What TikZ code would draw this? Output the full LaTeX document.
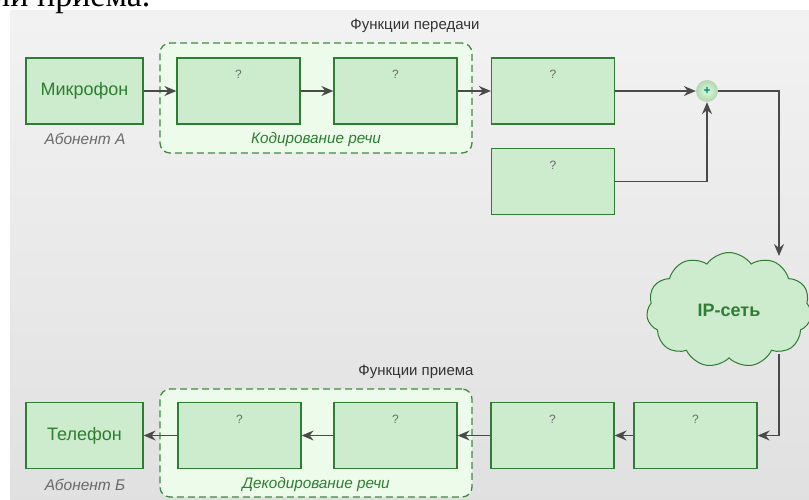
\documentclass[tikz,border=0pt]{standalone}
\usepackage{fontspec}
\setmainfont{Liberation Sans}
\newfontfamily\pagefont{Liberation Serif}
\usetikzlibrary{arrows.meta,shapes.symbols,positioning}

\definecolor{boxfill}{HTML}{CDEBCD}
\definecolor{boxline}{HTML}{2E7D32}
\definecolor{grpfill}{HTML}{EDFCEA}
\definecolor{grpline}{HTML}{3D8B3D}
\definecolor{wire}{HTML}{4A4A4A}
\definecolor{qmark}{HTML}{6A6A6A}
\definecolor{txtgreen}{HTML}{2E7D32}

\tikzset{
  block/.style={draw=boxline, fill=boxfill, line width=1.3pt,
    minimum width=123pt, minimum height=66pt, inner sep=0pt},
  qblock/.style={block, label={[anchor=center, yshift=-17pt, text=qmark,
    font=\fontsize{12}{14}\selectfont]north:?}},
  endbox/.style={block, minimum width=117pt, text=txtgreen,
    font=\fontsize{18}{21}\selectfont},
  group/.style={draw=grpline, fill=grpfill, line width=1.3pt,
    dash pattern=on 7pt off 4pt, rounded corners=10pt, inner sep=0pt},
  link/.style={draw=wire, line width=1.3pt,
    -{Stealth[length=12pt, width=10pt, inset=4pt]}},
  caption/.style={text=qmark, font=\itshape\fontsize{15.5}{18}\selectfont},
  grpcaption/.style={text=txtgreen, font=\itshape\fontsize{15.3}{18}\selectfont},
  title/.style={text=black!80, font=\fontsize{15}{18}\selectfont},
}

\begin{document}
\begin{tikzpicture}[x=1pt, y=-1pt]
\useasboundingbox (0,0) rectangle (809,499);
\shade[top color=black!5, bottom color=black!12] (10,10) rectangle (809,499);
\node[anchor=base west, inner sep=0pt, font=\pagefont\fontsize{34}{36}\selectfont] (pagetext) at (-8,6) {ии приема.};

% transmit side
\node[group, minimum width=312pt, minimum height=110pt] (enc) at (316,98) {};
\node[title] (txtitle) at (415,26) {Функции передачи};
\node[grpcaption] (enccap) at (316,140) {Кодирование речи};
\node[endbox] (mic) at (84.5,91) {Микрофон};
\node[caption] (abA) at (85,139) {Абонент А};
\node[qblock] (tx1) at (238.5,91) {};
\node[qblock] (tx2) at (395.5,91) {};
\node[qblock] (tx3) at (553,91) {};
\node[qblock] (tx4) at (553,181.5) {};
\node[circle, minimum size=22pt, inner sep=0pt, inner color=green!15, outer color=green!45!black!30!white,
  text=teal, font=\bfseries\fontsize{12}{12}\selectfont] (sum) at (707,91) {+};

% network
\node[cloud, cloud puffs=11, cloud puff arc=110, aspect=1.45, draw=boxline, fill=boxfill,
  line width=1pt, minimum width=165pt, minimum height=115pt, text=txtgreen,
  font=\bfseries\fontsize{18}{21}\selectfont] (net) at (729,310) {IP-сеть};
\coordinate (netin) at (779,256);
\coordinate (netout) at (779,354);

% receive side
\node[group, minimum width=312pt, minimum height=108pt] (dec) at (316,443) {};
\node[title] (rxtitle) at (416,372) {Функции приема};
\node[grpcaption] (deccap) at (316,485) {Декодирование речи};
\node[endbox] (tel) at (84.5,435.5) {Телефон};
\node[caption] (abB) at (85,485) {Абонент Б};
\node[qblock] (rx1) at (695.5,435.5) {};
\node[qblock] (rx2) at (552.5,435.5) {};
\node[qblock] (rx3) at (395.5,435.5) {};
\node[qblock] (rx4) at (239.5,435.5) {};

\draw[link] (mic) -- (tx1);
\draw[link] (tx1) -- (tx2);
\draw[link] (tx2) -- (tx3);
\draw[link] (tx3) -- (sum);
\draw[link] (tx4) -| (sum);
\draw[link] (sum) -| (netin);
\draw[link] (netout) |- (rx1);
\draw[link] (rx1) -- (rx2);
\draw[link] (rx2) -- (rx3);
\draw[link] (rx3) -- (rx4);
\draw[link] (rx4) -- (tel);
\end{tikzpicture}
\end{document}
